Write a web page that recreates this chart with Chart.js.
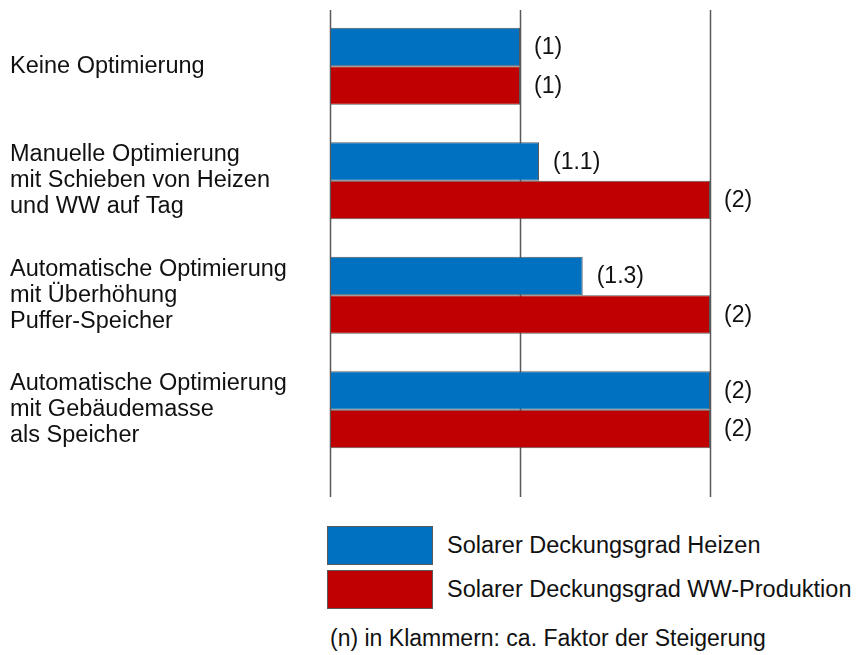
<!DOCTYPE html>
<html>
<head>
<meta charset="utf-8">
<script src="https://cdn.jsdelivr.net/npm/chart.js@4"></script>
<style>
  html, body { margin: 0; padding: 0; background: #fff; }
  body { width: 856px; height: 655px; position: relative; overflow: hidden; font-family: 'Liberation Sans', Arial, sans-serif; color: #111; }
  #c { position: absolute; left: 0; top: 0; }
  .box { position: absolute; left: 327px; width: 104px; height: 37px; border: 1px solid #595959; }
  .lt { position: absolute; left: 447px; font-size: 23.5px; line-height: 26px; white-space: nowrap; }
  #note { position: absolute; left: 330px; top: 625px; font-size: 23px; line-height: 26px; white-space: nowrap; }
</style>
</head>
<body>
<canvas id="c" width="856" height="500"></canvas>
<div class="box" style="top:526px;background:#0070C0"></div>
<div class="lt" id="l1" style="top:532px"></div>
<div class="box" style="top:570px;background:#C00000"></div>
<div class="lt" id="l2" style="top:576px"></div>
<div id="note">(n) in Klammern: ca. Faktor der Steigerung</div>
<script>
const categories = [
  ['Keine Optimierung'],
  ['Manuelle Optimierung', 'mit Schieben von Heizen', 'und WW auf Tag'],
  ['Automatische Optimierung', 'mit Überhöhung', 'Puffer-Speicher'],
  ['Automatische Optimierung', 'mit Gebäudemasse', 'als Speicher']
];
const seriesNames = ['Solarer Deckungsgrad Heizen', 'Solarer Deckungsgrad WW-Produktion'];
const heizen = [1, 1.1, 1.33, 2];
const wwProduktion = [1, 2, 2, 2];
const heizenLabels = ['(1)', '(1.1)', '(1.3)', '(2)'];
const wwLabels = ['(1)', '(2)', '(2)', '(2)'];
const gridValues = [0, 1, 2];

document.getElementById('l1').textContent = seriesNames[0];
document.getElementById('l2').textContent = seriesNames[1];

const FONT = "'Liberation Sans', Arial, sans-serif";

const gridPlugin = {
  id: 'gridLines',
  beforeDatasetsDraw(chart) {
    const ctx = chart.ctx, xs = chart.scales.x, a = chart.chartArea;
    ctx.save();
    ctx.strokeStyle = '#595959';
    ctx.lineWidth = 1.5;
    gridValues.forEach(v => {
      const x = Math.round(xs.getPixelForValue(v)) + 0.5;
      ctx.beginPath();
      ctx.moveTo(x, a.top + 1);
      ctx.lineTo(x, a.bottom + 30);
      ctx.stroke();
    });
    ctx.restore();
  }
};

const labelPlugin = {
  id: 'valueLabels',
  afterDatasetsDraw(chart) {
    const ctx = chart.ctx;
    ctx.save();
    ctx.font = '23px ' + FONT;
    ctx.fillStyle = '#111';
    ctx.textAlign = 'left';
    ctx.textBaseline = 'middle';
    const lbls = [heizenLabels, wwLabels];
    chart.data.datasets.forEach((ds, di) => {
      chart.getDatasetMeta(di).data.forEach((el, i) => {
        ctx.fillText(lbls[di][i], el.x + 14, el.y + 1);
      });
    });
    ctx.restore();
  }
};

new Chart(document.getElementById('c'), {
  type: 'bar',
  data: {
    labels: categories,
    datasets: [
      { label: seriesNames[0], data: heizen, backgroundColor: '#0070C0', borderColor: '#595959', borderWidth: 1, borderSkipped: false },
      { label: seriesNames[1], data: wwProduktion, backgroundColor: '#C00000', borderColor: '#595959', borderWidth: 1, borderSkipped: false }
    ]
  },
  options: {
    indexAxis: 'y',
    responsive: false,
    animation: false,
    events: [],
    layout: { padding: { left: 10, right: 146, top: 9, bottom: 33 } },
    categoryPercentage: 0.6725,
    barPercentage: 1.0,
    plugins: { legend: { display: false }, tooltip: { enabled: false } },
    scales: {
      x: { display: false, min: 0, max: 2 },
      y: {
        grid: { display: false },
        border: { display: false },
        afterFit(scale) { scale.width = 320; scale.paddingTop = 0; scale.paddingBottom = 0; },
        ticks: {
          crossAlign: 'far',
          color: '#111',
          padding: 0,
          font: { family: FONT, size: 23.5, lineHeight: 1.1 }
        }
      }
    }
  },
  plugins: [gridPlugin, labelPlugin]
});
</script>
</body>
</html>
